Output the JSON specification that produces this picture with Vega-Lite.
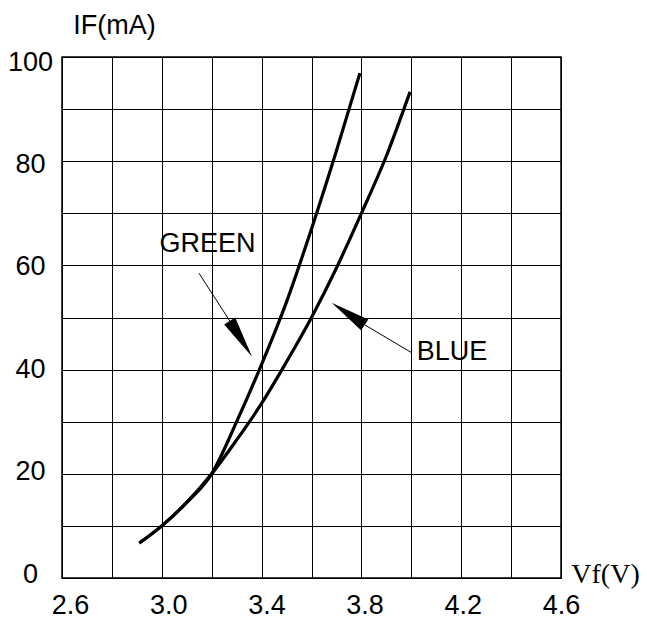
{
  "$schema": "https://vega.github.io/schema/vega-lite/v6.json",
  "width": 499,
  "height": 521,
  "autosize": {"type": "none"},
  "padding": {"left": 62, "top": 57, "right": 86, "bottom": 43},
  "background": "white",
  "config": {
    "view": {"stroke": "black", "strokeWidth": 1.5},
    "font": "Liberation Sans"
  },
  "datasets": {
    "curves": [
      {"series": "GREEN", "x": 2.91, "y": 6.7},
      {"series": "GREEN", "x": 3.0, "y": 10},
      {"series": "GREEN", "x": 3.1, "y": 14.5},
      {"series": "GREEN", "x": 3.2, "y": 20},
      {"series": "GREEN", "x": 3.3, "y": 30},
      {"series": "GREEN", "x": 3.4, "y": 41},
      {"series": "GREEN", "x": 3.5, "y": 53},
      {"series": "GREEN", "x": 3.6, "y": 67},
      {"series": "GREEN", "x": 3.7, "y": 82},
      {"series": "GREEN", "x": 3.794, "y": 96.9},
      {"series": "BLUE", "x": 2.91, "y": 6.7},
      {"series": "BLUE", "x": 3.0, "y": 10},
      {"series": "BLUE", "x": 3.1, "y": 14.5},
      {"series": "BLUE", "x": 3.2, "y": 20},
      {"series": "BLUE", "x": 3.3, "y": 26.5},
      {"series": "BLUE", "x": 3.4, "y": 33.5},
      {"series": "BLUE", "x": 3.5, "y": 41.5},
      {"series": "BLUE", "x": 3.6, "y": 50},
      {"series": "BLUE", "x": 3.7, "y": 59.5},
      {"series": "BLUE", "x": 3.8, "y": 70},
      {"series": "BLUE", "x": 3.9, "y": 81},
      {"series": "BLUE", "x": 3.995, "y": 93.3}
    ],
    "labels": [
      {"text": "GREEN", "x": 3.183, "y": 62.6},
      {"text": "BLUE", "x": 4.163, "y": 41.8}
    ],
    "leaders": [
      {"name": "GREEN", "x": 3.149, "y": 58.5, "x2": 3.273, "y2": 49.3},
      {"name": "BLUE", "x": 4.003, "y": 43.2, "x2": 3.813, "y2": 48.6}
    ],
    "heads": [
      {"name": "GREEN", "x": 3.317, "y": 45.9},
      {"name": "BLUE", "x": 3.747, "y": 50.7}
    ]
  },
  "encoding": {
    "x": {
      "field": "x",
      "type": "quantitative",
      "scale": {"domain": [2.6, 4.6], "nice": false, "zero": false},
      "axis": {
        "values": [2.6, 2.8, 3.0, 3.2, 3.4, 3.6, 3.8, 4.0, 4.2, 4.4, 4.6],
        "labelExpr": "round(datum.value * 10) % 4 == 2 ? format(datum.value, '.1f') : ''",
        "grid": true,
        "gridColor": "black",
        "gridWidth": 1,
        "gridOpacity": 1,
        "ticks": false,
        "domain": false,
        "labelFont": "Liberation Sans",
        "labelFontSize": 27,
        "labelColor": "black",
        "labelPadding": 14,
        "labelFlush": false,
        "labelOverlap": false,
        "labelOffset": {"expr": "(4.6 - datum.value) * 4"},
        "title": "Vf(V)",
        "titleFont": "Liberation Serif",
        "titleFontSize": 28,
        "titleFontWeight": "normal",
        "titleColor": "black",
        "titleX": 543,
        "titleY": 4,
        "titleAlign": "center",
        "titleBaseline": "alphabetic"
      }
    },
    "y": {
      "field": "y",
      "type": "quantitative",
      "scale": {"domain": [0, 100], "nice": false, "zero": false},
      "axis": {
        "values": [0, 10, 20, 30, 40, 50, 60, 70, 80, 90, 100],
        "labelExpr": "datum.value % 20 == 0 ? datum.label : ''",
        "grid": true,
        "gridColor": "black",
        "gridWidth": 1,
        "gridOpacity": 1,
        "ticks": false,
        "domain": false,
        "labelFont": "Liberation Sans",
        "labelFontSize": 27,
        "labelColor": "black",
        "labelAlign": "center",
        "labelBaseline": "middle",
        "labelPadding": 32,
        "labelFlush": false,
        "labelOverlap": false,
        "labelOffset": {"expr": "5 - (100 - datum.value) * 0.09"},
        "title": "IF(mA)",
        "titleFont": "Liberation Sans",
        "titleFontSize": 27,
        "titleFontWeight": "normal",
        "titleColor": "black",
        "titleAngle": 0,
        "titleX": 52,
        "titleY": -24,
        "titleAlign": "center",
        "titleBaseline": "alphabetic"
      }
    }
  },
  "layer": [
    {
      "data": {"name": "curves"},
      "mark": {"type": "line", "color": "black", "strokeWidth": 3.2, "interpolate": "monotone"},
      "encoding": {"detail": {"field": "series"}}
    },
    {
      "data": {"name": "leaders"},
      "mark": {"type": "rule", "color": "black", "strokeWidth": 1},
      "encoding": {"x2": {"field": "x2"}, "y2": {"field": "y2"}}
    },
    {
      "data": {"name": "heads"},
      "transform": [{"filter": "datum.name == 'GREEN'"}],
      "mark": {"type": "point", "shape": "M0,-1L0.31,1L-0.31,1Z", "size": 1764, "angle": 147.8, "filled": true, "color": "black", "opacity": 1, "strokeWidth": 0}
    },
    {
      "data": {"name": "heads"},
      "transform": [{"filter": "datum.name == 'BLUE'"}],
      "mark": {"type": "point", "shape": "M0,-1L0.33,1L-0.33,1Z", "size": 1576, "angle": 303.7, "filled": true, "color": "black", "opacity": 1, "strokeWidth": 0}
    },
    {
      "data": {"name": "labels"},
      "mark": {"type": "text", "font": "Liberation Sans", "fontSize": 27, "color": "black", "align": "center", "baseline": "alphabetic"},
      "encoding": {"text": {"field": "text"}}
    }
  ]
}
